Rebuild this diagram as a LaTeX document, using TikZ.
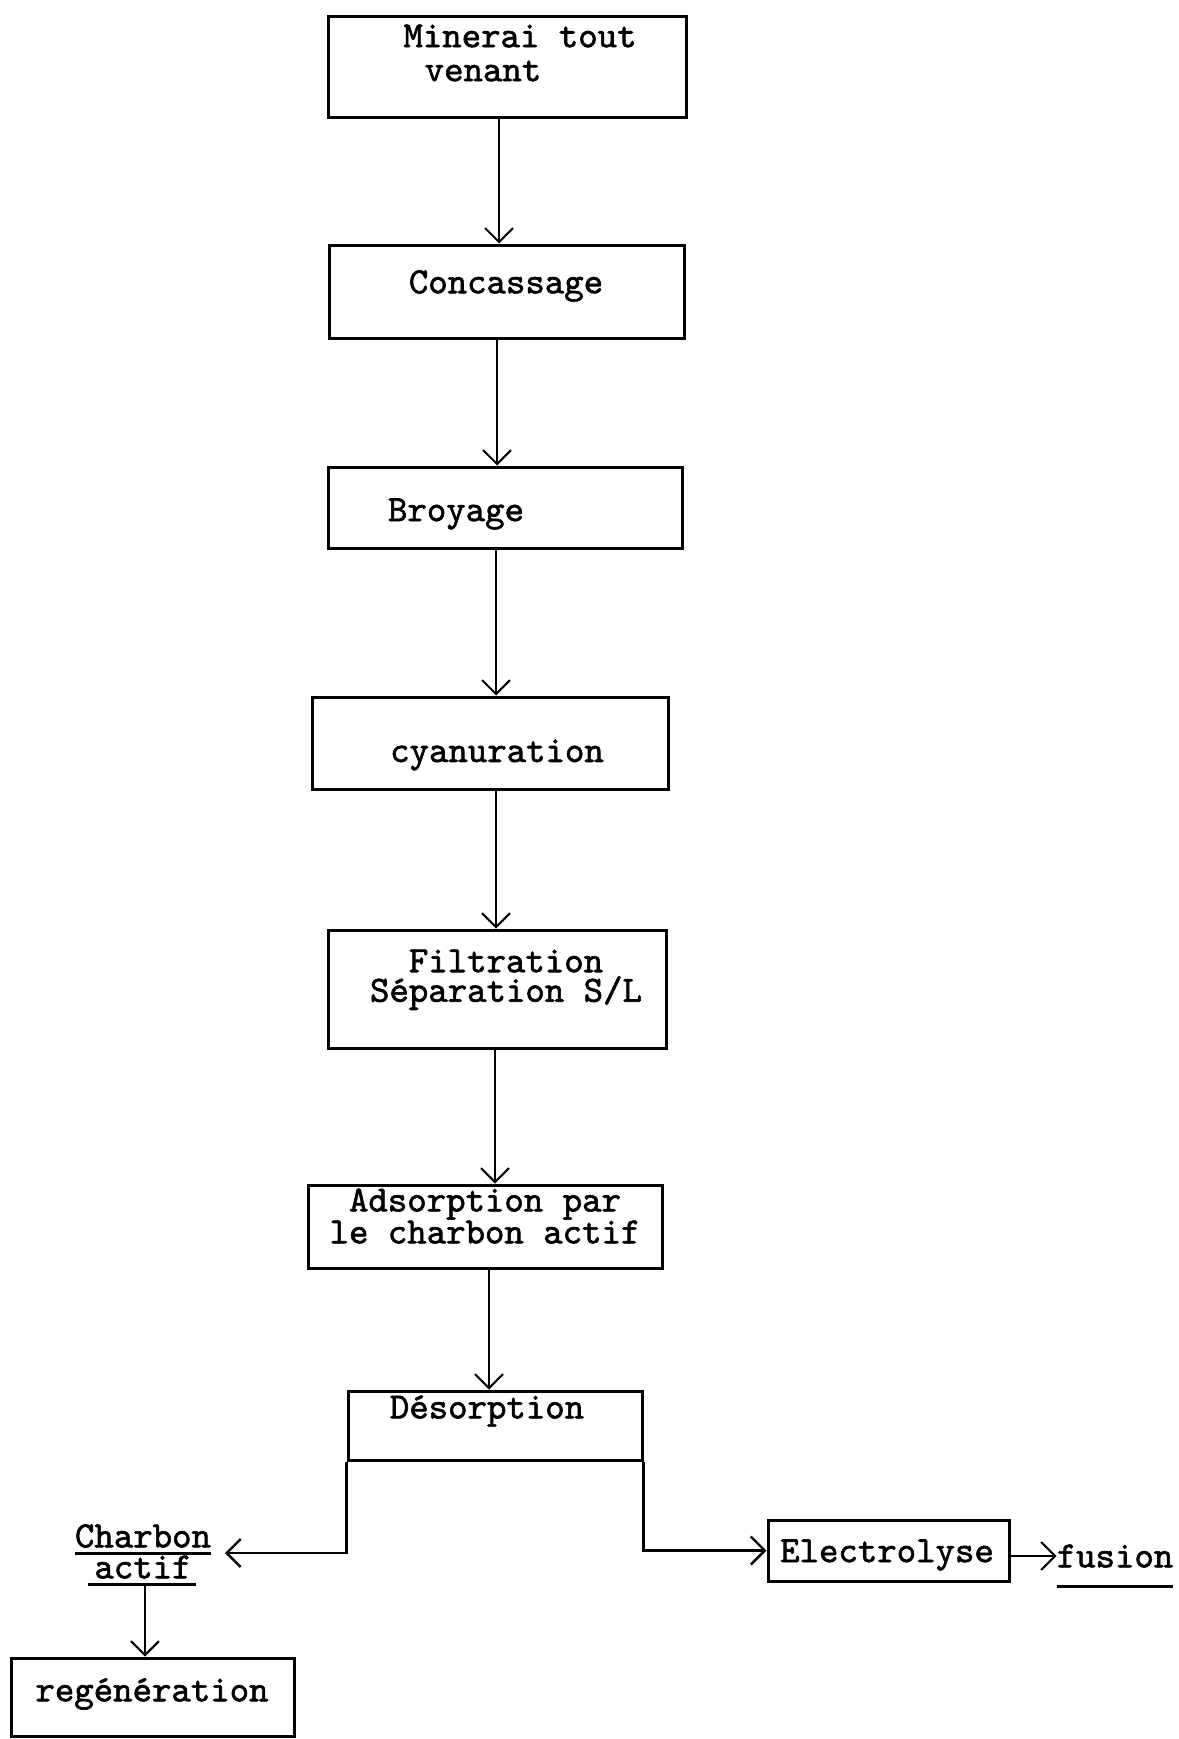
\documentclass[tikz,border=0pt]{standalone}
\usepackage{fontspec}
\newfontfamily\twfont{lmmono10-regular}[Extension=.otf, FakeBold=1.6]
\usetikzlibrary{arrows.meta,calc}
\begin{document}
\begin{tikzpicture}[x=1pt,y=-1pt,
  box/.style={draw, line width=3pt, rectangle, inner sep=0pt},
  txt/.style={font=\fontsize{37}{37}\selectfont\twfont, inner sep=0pt, anchor=center},
  arr/.style={line width=2pt, -{Straight Barb[length=14pt,width=28pt,line width=2pt]}},
  brn/.style={line width=2.8pt, -{Straight Barb[length=14pt,width=28pt,line width=2.4pt]}},
  uline/.style={line width=3pt}]
\useasboundingbox (0,0) rectangle (1178,1739);
\fill[white] (0,0) rectangle (1178,1739);

% boxes
\node[box, minimum width=358pt, minimum height=101pt] (b1) at (507,67.5) {};
\node[box, minimum width=355pt, minimum height=93pt]  (b2) at (506.5,291.5) {};
\node[box, minimum width=354pt, minimum height=81pt]  (b3) at (505,507.5) {};
\node[box, minimum width=356pt, minimum height=92pt]  (b4) at (490,743) {};
\node[box, minimum width=338pt, minimum height=118pt] (b5) at (497,989) {};
\node[box, minimum width=354pt, minimum height=83pt]  (b6) at (485,1226.5) {};
\node[box, minimum width=294pt, minimum height=69pt]  (b7) at (495,1425.5) {};
\node[box, minimum width=283pt, minimum height=78pt]  (b8) at (152.5,1697) {};
\node[box, minimum width=241pt, minimum height=61pt]  (b9) at (888.5,1550.5) {};

% texts
\node[txt] (t1a) at (520,36) {Minerai tout};
\node[txt] (t1b) at (483,71) {venant};
\node[txt] (t2) at (506,286) {Concassage};
\node[txt] (t3) at (456,514) {Broyage};
\node[txt] (t4) at (497,755) {cyanuration};
\node[txt] (t5a) at (506,961) {Filtration};
\node[txt] (t5b) at (506,993) {Séparation S/L};
\node[txt] (t6a) at (485,1204) {Adsorption par};
\node[txt] (t6b) at (485,1232) {le charbon actif};
\node[txt] (t7) at (487,1411) {Désorption};
\node[txt] (t8) at (152,1694) {regénération};
\node[txt] (t9) at (887,1555) {Electrolyse};
\node[txt] (ca1) at (143,1536) {Charbon};
\node[txt] (ca2) at (143,1567) {actif};
\node[txt] (fu) at (1115,1556) {fusion};

% underlines
\draw[uline] (ca1.south west |- 0,1553) coordinate (u1a) -- (ca1.south east |- 0,1553) coordinate (u1b);
\draw[uline] ([xshift=-6pt]ca2.south west |- 0,1584) coordinate (u2a) -- ([xshift=4pt]ca2.south east |- 0,1584) coordinate (u2b);
\draw[uline] (fu.south west |- 0,1586) coordinate (u3a) -- (fu.south east |- 0,1586) coordinate (u3b);

% main chain
\draw[arr] ([xshift=-8pt]b1.south) -- ([xshift=-8pt]b1.south |- b2.north);
\draw[arr] ([xshift=-9.5pt]b2.south) -- ([xshift=-9.5pt]b2.south |- b3.north);
\draw[arr] ([xshift=-9pt]b3.south) -- ([xshift=-9pt]b3.south |- b4.north);
\draw[arr] ([xshift=6pt]b4.south) -- ([xshift=6pt]b4.south |- b5.north);
\draw[arr] ([xshift=-2pt]b5.south) -- ([xshift=-2pt]b5.south |- b6.north);
\draw[arr] ([xshift=4pt]b6.south) -- ([xshift=4pt]b6.south |- b7.north);

% branches
\coordinate (catip) at (225,1553);
\draw[brn] (b7.south west) |- (catip);
\draw[brn] (b7.south east) |- (b9.west);
\draw[arr] (145,1584) coordinate (cas) -- (cas |- b8.north);
\draw[arr] (b9.east |- 0,1556) -- (fu.west |- 0,1556);
\end{tikzpicture}
\end{document}
